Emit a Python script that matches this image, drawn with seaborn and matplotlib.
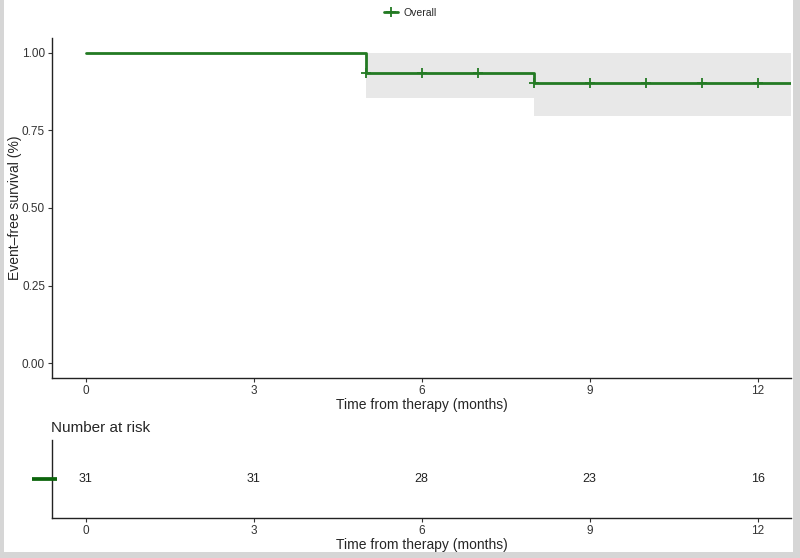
import numpy as np
import pandas as pd
import matplotlib
matplotlib.use("Agg")
import matplotlib.pyplot as plt
from matplotlib.lines import Line2D
from matplotlib.patches import Rectangle
import seaborn as sns

# Kaplan-Meier step values
km_time = [0, 5, 8, 12.6]
km_surv = [1.0, 0.935, 0.902, 0.902]
km_lower = [1.0, 0.855, 0.797, 0.797]
km_upper = [1.0, 1.0, 1.0, 1.0]

censor_time = [5, 6, 7, 8, 9, 10, 11, 12]
censor_surv = [0.935, 0.935, 0.935, 0.902, 0.902, 0.902, 0.902, 0.902]

risk_time = [0, 3, 6, 9, 12]
risk_n = [31, 31, 28, 23, 16]

x_ticks = [0, 3, 6, 9, 12]
y_ticks = [0.0, 0.25, 0.5, 0.75, 1.0]
y_tick_labels = ["0.00", "0.25", "0.50", "0.75", "1.00"]

line_col = "#237a23"
strip_col = "#0b640b"

sns.set_theme(style="ticks")
plt.rcParams['font.family'] = ['Liberation Sans', 'DejaVu Sans']

fig = plt.figure(figsize=(8, 5.58), dpi=100)
fig.patch.set_facecolor("#d6d6d6")
fig.add_artist(Rectangle((4 / 800, 6 / 558), 789 / 800, 1 - 6 / 558,
                         transform=fig.transFigure, facecolor="white",
                         edgecolor="none", zorder=-10))

ax = fig.add_axes([0.065, 0.3226, 0.924, 0.6093])
ax.set_facecolor("none")

km = pd.DataFrame({"time": km_time, "surv": km_surv})
cens = pd.DataFrame({"time": censor_time, "surv": censor_surv})

ax.fill_between(km_time, km_lower, km_upper, step="post",
                color="#e8e8e8", linewidth=0, zorder=1)
sns.lineplot(data=km, x="time", y="surv", drawstyle="steps-post",
             color=line_col, linewidth=2, ax=ax, zorder=3)
sns.scatterplot(data=cens, x="time", y="surv", marker="+", s=45,
                color=line_col, linewidth=1.3, ax=ax, zorder=4)

ax.set_xlim(-0.6, 12.6)
ax.set_ylim(-0.048, 1.048)
ax.set_xticks(x_ticks)
ax.set_yticks(y_ticks)
ax.set_yticklabels(y_tick_labels)
ax.set_xlabel("Time from therapy (months)", fontsize=10, labelpad=1)
ax.set_ylabel("Event–free survival (%)", fontsize=10, va="center")
ax.yaxis.set_label_coords(-0.050, 0.5)
ax.tick_params(labelsize=8.5, length=3, width=0.8, color="#333333",
               labelcolor="#333333", pad=2)
for s in ["top", "right"]:
    ax.spines[s].set_visible(False)
for s in ["left", "bottom"]:
    ax.spines[s].set_color("#222222")
    ax.spines[s].set_linewidth(1)

handle = Line2D([], [], color=line_col, linewidth=2, marker="+",
                markersize=7, markeredgewidth=1.3)
fig.legend([handle], ["Overall"], loc="center", bbox_to_anchor=(0.513, 0.977),
           frameon=False, fontsize=7.5, handlelength=1.4, handletextpad=0.5)

# risk table
rax = fig.add_axes([0.065, 0.0717, 0.924, 0.1398])
risk = pd.DataFrame({"time": risk_time, "n": risk_n})
for _, r in risk.iterrows():
    rax.text(r["time"], 0.5, str(int(r["n"])), ha="center", va="center",
             fontsize=9, color="#222222")
rax.set_xlim(-0.6, 12.6)
rax.set_ylim(0, 1)
rax.set_xticks(x_ticks)
rax.set_yticks([])
rax.set_xlabel("Time from therapy (months)", fontsize=10, labelpad=1)
rax.set_title("Number at risk", loc="left", fontsize=11, pad=6, x=-0.002)
rax.tick_params(labelsize=8.5, length=3, width=0.8, color="#333333",
                labelcolor="#333333", pad=2)
for s in ["top", "right"]:
    rax.spines[s].set_visible(False)
for s in ["left", "bottom"]:
    rax.spines[s].set_color("#222222")
    rax.spines[s].set_linewidth(1)
rax.plot([-0.027, 0.007], [0.5, 0.5], transform=rax.transAxes,
         color=strip_col, linewidth=2.7, solid_capstyle="butt", clip_on=False,
         zorder=5)

fig.savefig("out.png", dpi=100)
